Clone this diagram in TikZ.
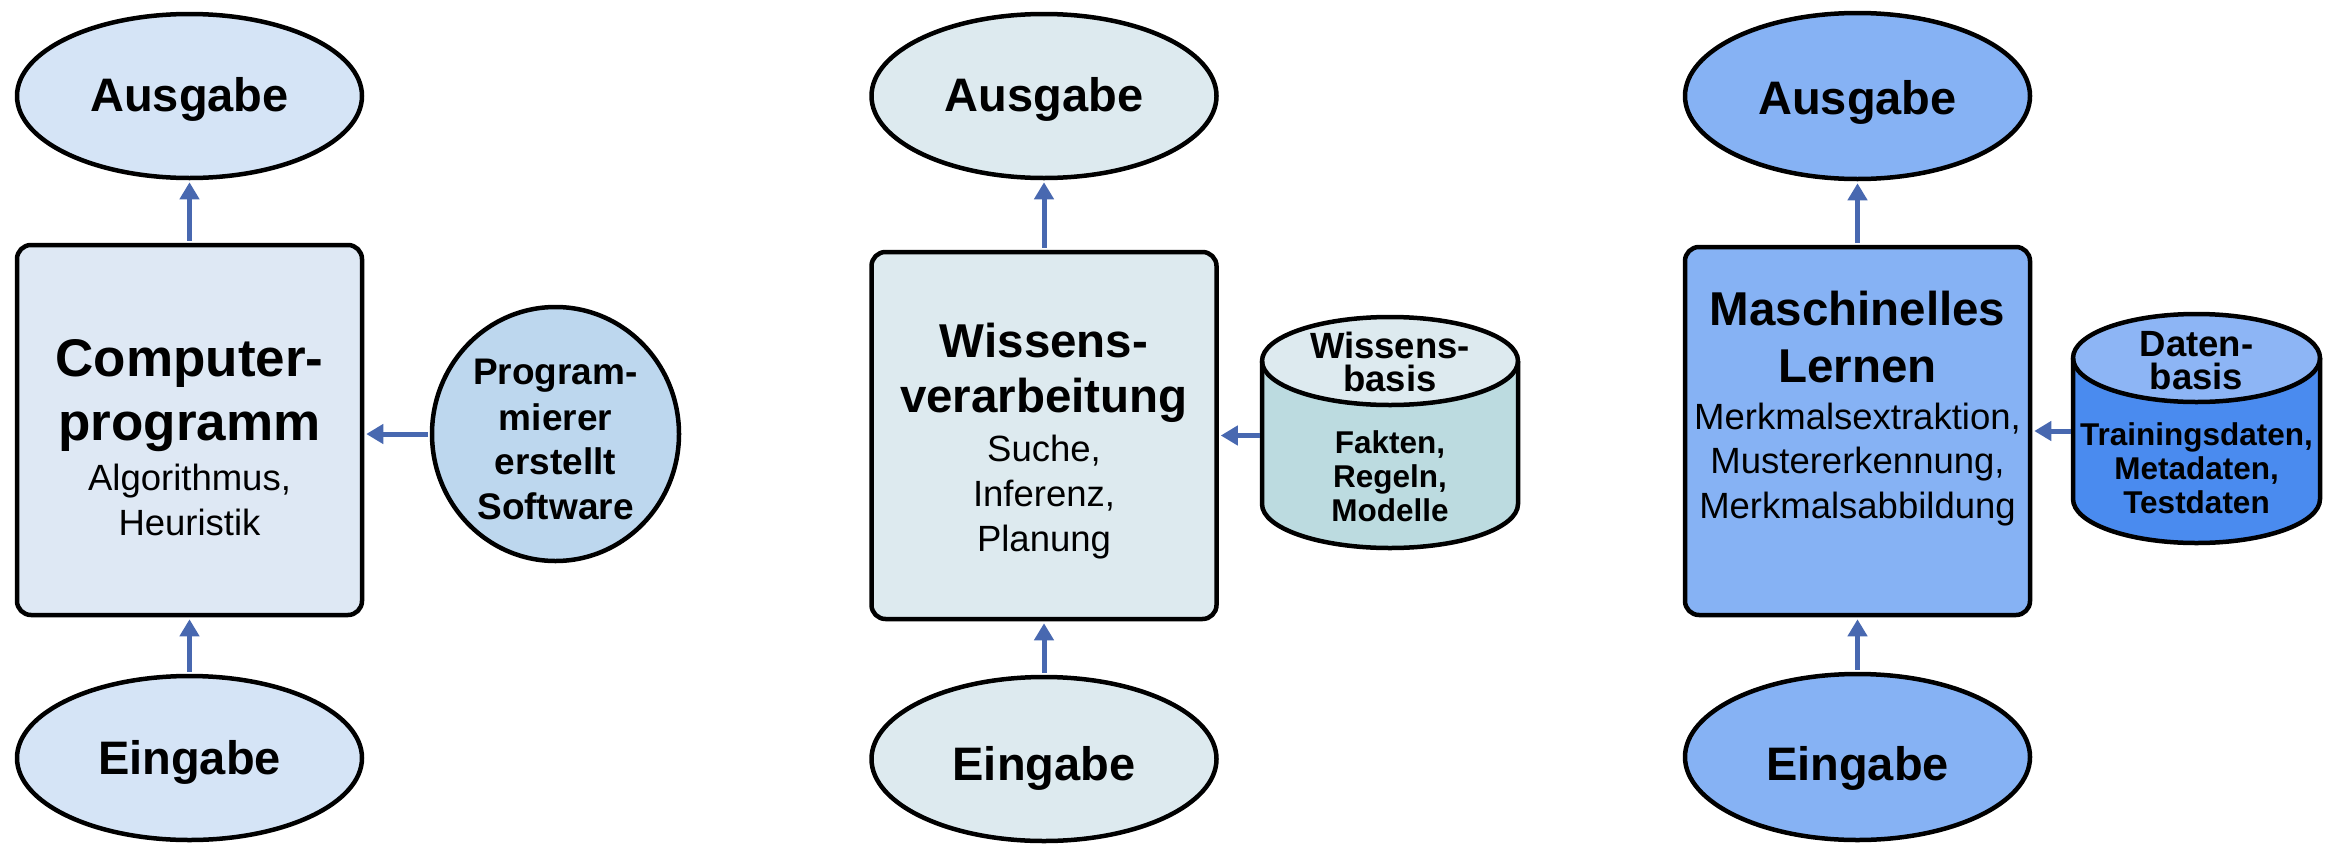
\documentclass[tikz,border=0pt]{standalone}
\usepackage{fontspec}
\setmainfont{Liberation Sans}
\usetikzlibrary{shapes.geometric,arrows.meta}

\definecolor{ioA}{HTML}{D5E4F6}
\definecolor{boxA}{HTML}{DEE8F4}
\definecolor{progA}{HTML}{BDD7EE}
\definecolor{ioB}{HTML}{DDEAEF}
\definecolor{boxB}{HTML}{DDEAEF}
\definecolor{dbTopB}{HTML}{DDEAEF}
\definecolor{dbBodyB}{HTML}{BCDBE0}
\definecolor{ioC}{HTML}{86B2F4}
\definecolor{boxC}{HTML}{86B2F4}
\definecolor{dbTopC}{HTML}{8DB5F5}
\definecolor{dbBodyC}{HTML}{4A8BEF}
\definecolor{arrowc}{HTML}{4868B0}

\tikzset{
  border/.style={draw=black, line width=4.5pt, line join=round},
  iobox/.style={border, ellipse, inner sep=0pt, minimum width=345pt, minimum height=164pt},
  procbox/.style={border, rectangle, rounded corners=14pt, inner sep=0pt, minimum width=345pt},
  arr/.style={draw=arrowc, line width=5pt, shorten >=2pt, shorten <=2pt,
              -{Triangle[width=19pt,length=17pt]}},
  txt/.style={anchor=base, inner sep=0pt, text=black},
  iotxt/.style={txt, font=\bfseries\fontsize{47}{55}\selectfont},
  ttlbig/.style={txt, font=\bfseries\fontsize{53}{60}\selectfont},
  ttl/.style={txt, font=\bfseries\fontsize{47.5}{55}\selectfont},
  subtxt/.style={txt, font=\fontsize{36.5}{44}\selectfont},
  prgtxt/.style={txt, font=\bfseries\fontsize{37}{44}\selectfont},
  dbhead/.style={txt, font=\bfseries\fontsize{36.5}{44}\selectfont},
  dbtxt/.style={txt, font=\bfseries\fontsize{31.5}{38}\selectfont},
  dbarea/.style={inner sep=0pt, draw=none},
}

\begin{document}
\begin{tikzpicture}[x=1pt, y=1pt]
\useasboundingbox (0,0) rectangle (2331,-846);

% ---------- Computerprogramm ----------
\node[iobox, fill=ioA] (ausA) at (189.5,-96) {};
\node[procbox, fill=boxA, minimum height=370pt] (boxA) at (189.5,-430) {};
\node[iobox, fill=ioA] (einA) at (189.5,-758) {};
\node[border, ellipse, fill=progA, inner sep=0pt, minimum width=247pt, minimum height=254pt] (prog) at (555.5,-434) {};

\node[iotxt] (ausAt) at (189.5,-111) {Ausgabe};
\node[iotxt] (einAt) at (189.5,-774) {Eingabe};
\node[ttlbig] (boxAt1) at (189.5,-376) {Computer-};
\node[ttlbig] (boxAt2) at (189.5,-440) {programm};
\node[subtxt] (boxAs1) at (189.5,-490) {Algorithmus,};
\node[subtxt] (boxAs2) at (189.5,-535) {Heuristik};
\node[prgtxt] (prog1) at (555.5,-384) {Program-};
\node[prgtxt] (prog2) at (555.5,-430) {mierer};
\node[prgtxt] (prog3) at (555.5,-474) {erstellt};
\node[prgtxt] (prog4) at (555.5,-519) {Software};

\draw[arr] (boxA.north) -- (ausA.south);
\draw[arr] (einA.north) -- (boxA.south);
\draw[arr] (prog.west) -- (prog.west -| boxA.east);

% ---------- Wissensverarbeitung ----------
\node[iobox, fill=ioB] (ausB) at (1044,-96) {};
\node[procbox, fill=boxB, minimum height=367pt] (boxB) at (1044,-435.5) {};
\node[iobox, fill=ioB] (einB) at (1044,-759) {};

% knowledge base drawn as a cylinder
\fill[dbBodyB] (1262,-361) -- (1262,-504)
  arc[start angle=180, end angle=360, x radius=128pt, y radius=44pt]
  -- (1518,-361) -- cycle;
\fill[dbTopB] (1390,-361) ellipse[x radius=128pt, y radius=44pt];
\draw[border] (1262,-361) -- (1262,-504)
  arc[start angle=180, end angle=360, x radius=128pt, y radius=44pt]
  -- (1518,-361);
\draw[border] (1390,-361) ellipse[x radius=128pt, y radius=44pt];
\node[dbarea, minimum width=256pt, minimum height=231pt] (dbB) at (1390,-432.5) {};

\node[iotxt] (ausBt) at (1044,-111) {Ausgabe};
\node[iotxt] (einBt) at (1044,-780) {Eingabe};
\node[ttl] (boxBt1) at (1044,-357) {Wissens-};
\node[ttl] (boxBt2) at (1044,-412) {verarbeitung};
\node[subtxt] (boxBs1) at (1044,-461) {Suche,};
\node[subtxt] (boxBs2) at (1044,-506) {Inferenz,};
\node[subtxt] (boxBs3) at (1044,-551) {Planung};
\node[dbhead] (dbBh1) at (1390,-358) {Wissens-};
\node[dbhead] (dbBh2) at (1390,-391) {basis};
\node[dbtxt] (dbBt1) at (1390,-453) {Fakten,};
\node[dbtxt] (dbBt2) at (1390,-487) {Regeln,};
\node[dbtxt] (dbBt3) at (1390,-521) {Modelle};

\draw[arr] (boxB.north) -- (ausB.south);
\draw[arr] (einB.north) -- (boxB.south);
\draw[arr] (boxB.east -| dbB.west) -- (boxB.east);

% ---------- Maschinelles Lernen ----------
\node[iobox, fill=ioC, minimum height=166pt] (ausC) at (1857.5,-96) {};
\node[procbox, fill=boxC, minimum height=368pt] (boxC) at (1857.5,-431) {};
\node[iobox, fill=ioC, minimum height=166pt] (einC) at (1857.5,-757) {};

% data base drawn as a cylinder
\fill[dbBodyC] (2073,-358) -- (2073,-499)
  arc[start angle=180, end angle=360, x radius=123.5pt, y radius=44pt]
  -- (2320,-358) -- cycle;
\fill[dbTopC] (2196.5,-358) ellipse[x radius=123.5pt, y radius=44pt];
\draw[border] (2073,-358) -- (2073,-499)
  arc[start angle=180, end angle=360, x radius=123.5pt, y radius=44pt]
  -- (2320,-358);
\draw[border] (2196.5,-358) ellipse[x radius=123.5pt, y radius=44pt];
\node[dbarea, minimum width=247pt, minimum height=229pt] (dbC) at (2196.5,-428.5) {};

\node[iotxt] (ausCt) at (1857.5,-114) {Ausgabe};
\node[iotxt] (einCt) at (1857.5,-780) {Eingabe};
\node[ttl] (boxCt1) at (1857.5,-325) {Maschinelles};
\node[ttl] (boxCt2) at (1857.5,-382) {Lernen};
\node[subtxt] (boxCs1) at (1857.5,-429) {Merkmalsextraktion,};
\node[subtxt] (boxCs2) at (1857.5,-473) {Mustererkennung,};
\node[subtxt] (boxCs3) at (1857.5,-518) {Merkmalsabbildung};
\node[dbhead] (dbCh1) at (2196.5,-356) {Daten-};
\node[dbhead] (dbCh2) at (2196.5,-389) {basis};
\node[dbtxt] (dbCt1) at (2196.5,-445) {Trainingsdaten,};
\node[dbtxt] (dbCt2) at (2196.5,-479) {Metadaten,};
\node[dbtxt] (dbCt3) at (2196.5,-513) {Testdaten};

\draw[arr] (boxC.north) -- (ausC.south);
\draw[arr] (einC.north) -- (boxC.south);
\draw[arr] (boxC.east -| dbC.west) -- (boxC.east);
\end{tikzpicture}
\end{document}
